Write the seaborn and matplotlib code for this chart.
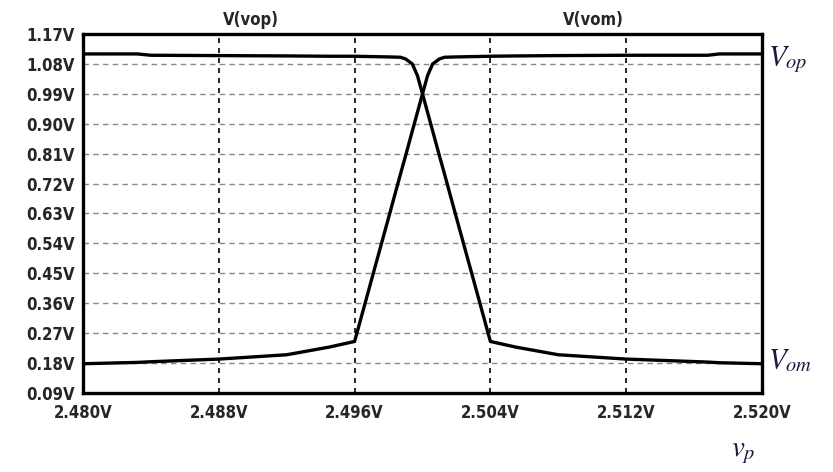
import numpy as np
import pandas as pd
import seaborn as sns
import matplotlib.pyplot as plt

# sweep values (V)
vp = [2.480, 2.4832, 2.4840, 2.488, 2.492, 2.4945, 2.496, 2.497, 2.498, 2.4987,
      2.499, 2.4994, 2.4997, 2.500, 2.5003, 2.5006, 2.501, 2.5013, 2.502, 2.503,
      2.504, 2.5055, 2.508, 2.512, 2.5168, 2.5175, 2.520]
v_vop = [1.110, 1.110, 1.106, 1.105, 1.104, 1.103, 1.103, 1.102, 1.101, 1.100,
         1.095, 1.080, 1.045, 0.990, 0.934, 0.878, 0.803, 0.748, 0.617, 0.431,
         0.245, 0.228, 0.205, 0.192, 0.183, 0.181, 0.178]
v_vom = [0.178, 0.182, 0.184, 0.192, 0.205, 0.228, 0.245, 0.431, 0.617, 0.748,
         0.803, 0.878, 0.934, 0.990, 1.045, 1.080, 1.095, 1.100, 1.101, 1.102,
         1.103, 1.104, 1.105, 1.106, 1.106, 1.110, 1.110]
y_ticks = [0.09, 0.18, 0.27, 0.36, 0.45, 0.54, 0.63, 0.72, 0.81, 0.90, 0.99, 1.08, 1.17]
x_ticks = [2.480, 2.488, 2.496, 2.504, 2.512, 2.520]

df = pd.DataFrame({'vp': vp * 2, 'v': v_vop + v_vom,
                   'trace': ['V(vop)'] * len(vp) + ['V(vom)'] * len(vp)})

sns.set_style('white')
plt.rcParams['font.family'] = ['DejaVu Sans']
plt.rcParams['font.stretch'] = 'condensed'
plt.rcParams['mathtext.fontset'] = 'stix'

fig = plt.figure(figsize=(8.33, 4.72), dpi=100)
ax = fig.add_axes([0.0996, 0.1674, 0.8152, 0.7606])

# grid first so the traces sit on top
for y in y_ticks[1:-1]:
    ax.axhline(y, color='#888888', lw=1, ls=(0, (4, 3)), zorder=0)
for x in x_ticks[1:-1]:
    ax.axvline(x, color='black', lw=1.2, ls=(0, (3, 3)), zorder=0)

sns.lineplot(data=df, x='vp', y='v', hue='trace', palette=['black', 'black'],
             linewidth=2.4, legend=False, sort=False, estimator=None, ax=ax)

ax.set_xlim(2.480, 2.520)
ax.set_ylim(0.09, 1.17)
ax.set_xticks(x_ticks)
ax.set_yticks(y_ticks)
ax.set_xticklabels([f'{t:.3f}V' for t in x_ticks], fontsize=12, fontweight='bold')
ax.set_yticklabels([f'{t:.2f}V' for t in y_ticks], fontsize=12, fontweight='bold')
ax.tick_params(axis='both', direction='out', length=5, width=2.2, color='black', pad=1)
ax.tick_params(axis='x', pad=3)
for s in ax.spines.values():
    s.set_linewidth(2.4)
    s.set_color('black')
ax.set_xlabel('')
ax.set_ylabel('')

# trace names on top
fig.text(251 / 833, 1 - 20 / 472, 'V(vop)', ha='center', va='center', fontsize=12, fontweight='bold')
fig.text(593 / 833, 1 - 20 / 472, 'V(vom)', ha='center', va='center', fontsize=12, fontweight='bold')

# annotations on the right
fig.text(768 / 833, 1 - 60 / 472, r'$V_{op}$', ha='left', va='center', fontsize=21, color='#1a1a40')
fig.text(768 / 833, 1 - 360 / 472, r'$V_{om}$', ha='left', va='center', fontsize=21, color='#1a1a40')
fig.text(743 / 833, 1 - 452 / 472, r'$v_p$', ha='center', va='center', fontsize=21, color='#1a1a40')

fig.savefig('out.png', dpi=100)
